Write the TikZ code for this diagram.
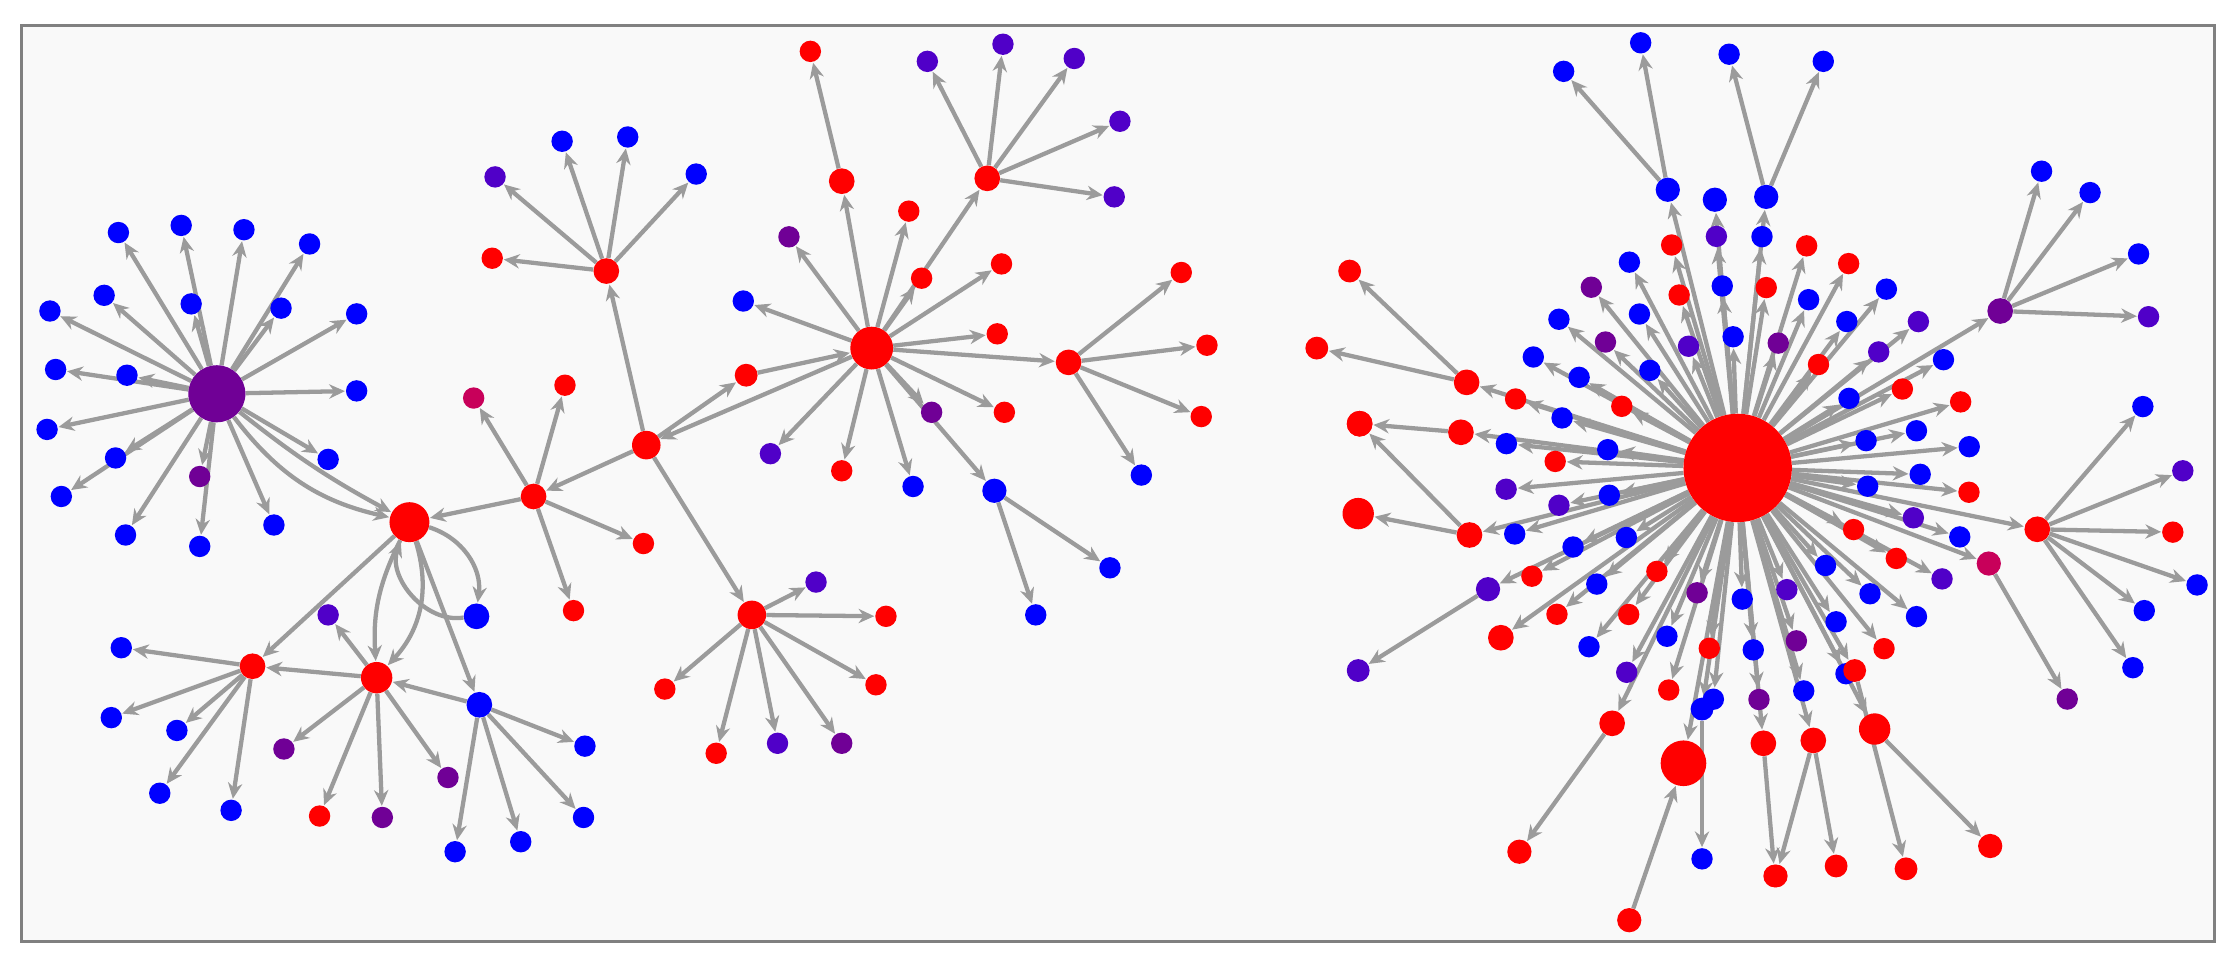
\documentclass[tikz,border=0pt]{standalone}
\usetikzlibrary{arrows.meta}
\definecolor{myblue}{RGB}{0,0,255}
\definecolor{myred}{RGB}{255,0,0}
\definecolor{mypurple}{RGB}{112,0,150}
\definecolor{myviolet}{RGB}{80,0,200}
\definecolor{mycrimson}{RGB}{200,0,90}
\definecolor{edgegray}{RGB}{155,155,155}
\pgfdeclarelayer{frame}
\pgfdeclarelayer{edges}
\pgfsetlayers{frame,edges,main}
\tikzset{every picture/.style={line width=0.75pt}}
\tikzset{
  dot/.style={circle,inner sep=0pt,draw=none,minimum size=#1},
  dot/.default=15pt,
  edge/.style={draw=edgegray,line width=3pt,-{Stealth[length=11pt,width=10pt]},shorten >=0.5pt}
}
\begin{document}
\begin{tikzpicture}[x=1pt,y=1pt,yscale=-1]
\useasboundingbox (0,0) rectangle (1568,682);
\begin{pgfonlayer}{frame}
\draw[draw=gray,line width=2pt,fill={rgb,255:red,249;green,249;blue,249}] (15,18) rectangle (1552,660);
\end{pgfonlayer}

%% left component: hubs
\node[dot=40pt,fill=mypurple] (P) at (152,276) {};
\node[dot=28pt,fill=myred] (R1) at (287,366) {};
\node[dot=18pt,fill=myred] (B) at (374,348) {};
\node[dot=20pt,fill=myred] (A) at (453,312) {};
\node[dot=30pt,fill=myred] (H2) at (611,244) {};
\node[dot=18pt,fill=myred] (C) at (425,190) {};
\node[dot=20pt,fill=myred] (D) at (527,431) {};
\node[dot=18pt,fill=myred] (E) at (177,467) {};
\node[dot=22pt,fill=myred] (F) at (264,475) {};
\node[dot=18pt,fill=myblue] (G) at (336,494) {};
\node[dot=18pt,fill=myblue] (L) at (334,432) {};
\node[dot=16pt,fill=myred] (M) at (523,263) {};
\node[dot=18pt,fill=myred] (N) at (590,127) {};
\node[dot=18pt,fill=myred] (K) at (692,125) {};
\node[dot=18pt,fill=myred] (J) at (749,254) {};
\node[dot=17pt,fill=myblue] (Q) at (697,344) {};

\begin{pgfonlayer}{edges}
\draw[edge] (P) to[bend left=20] (R1);
\draw[edge] (P) to[bend left=5] (R1);
\draw[edge] (B) -- (R1);
\draw[edge] (A) -- (B);
\draw[edge] (A) -- (C);
\draw[edge] (A) -- (M);
\draw[edge] (M) -- (H2);
\draw[edge] (H2) -- (A);
\draw[edge] (A) -- (D);
\draw[edge] (R1) -- (E);
\draw[edge] (R1) to[bend right=30] (F);
\draw[edge] (R1) to[bend left=15] (F);
\draw[edge] (G) -- (F);
\draw[edge] (R1) -- (G);
\draw[edge] (R1) to[bend right=40] (L);
\draw[edge] (L) to[bend right=60] (R1);
\draw[edge] (F) -- (E);
\draw[edge] (H2) -- (N);
\draw[edge] (H2) -- (K);
\draw[edge] (H2) -- (J);
\draw[edge] (H2) -- (Q);
\end{pgfonlayer}

%% left component: leaves
\foreach \hub/\n/\x/\y/\c in {
  P/p1/83/163/myblue, P/p2/127/158/myblue, P/p3/171/161/myblue, P/p4/217/171/myblue,
  P/p5/35/218/myblue, P/p6/73/207/myblue, P/p7/134/213/myblue, P/p8/197/216/myblue,
  P/p9/250/220/myblue, P/p10/39/259/myblue, P/p11/89/263/myblue, P/p12/250/274/myblue,
  P/p13/33/301/myblue, P/p14/81/321/myblue, P/p15/140/334/mypurple, P/p16/230/322/myblue,
  P/p17/43/348/myblue, P/p18/88/375/myblue, P/p19/140/383/myblue, P/p20/192/368/myblue,
  E/e1/85/454/myblue, E/e2/78/503/myblue, E/e3/124/512/myblue, E/e4/112/556/myblue, E/e5/162/568/myblue,
  F/f1/230/431/myviolet, F/f2/199/525/mypurple, F/f3/224/572/myred, F/f4/268/573/mypurple, F/f5/314/545/mypurple,
  G/g1/410/523/myblue, G/g2/319/597/myblue, G/g3/365/590/myblue, G/g4/409/573/myblue,
  B/b1/332/279/mycrimson, B/b2/396/270/myred, B/b3/451/381/myred, B/b4/402/428/myred,
  C/c1/345/181/myred, C/c2/347/124/myviolet, C/c3/394/99/myblue, C/c4/440/96/myblue, C/c5/488/122/myblue,
  D/d1/466/483/myred, D/d2/502/528/myred, D/d3/545/521/myviolet, D/d4/590/521/mypurple,
  D/d5/614/480/myred, D/d6/621/432/myred, D/d7/572/408/myviolet,
  N/n1/568/36/myred,
  H2/h1/553/166/mypurple, H2/h2/637/148/myred, H2/h3/646/195/myred, H2/h4/702/185/myred,
  H2/h5/699/234/myred, H2/h6/521/211/myblue, H2/h7/540/318/myviolet, H2/h8/590/330/myred,
  H2/h9/653/289/mypurple, H2/h10/704/289/myred, H2/h11/640/341/myblue,
  Q/q1/726/431/myblue, Q/q2/778/398/myblue,
  J/j1/828/191/myred, J/j2/846/242/myred, J/j3/842/292/myred, J/j4/800/333/myblue,
  K/k1/650/43/myviolet, K/k2/703/31/myviolet, K/k3/753/41/myviolet, K/k4/785/85/myviolet, K/k5/781/138/myviolet}
{
  \node[dot,fill=\c] (\n) at (\x,\y) {};
  \begin{pgfonlayer}{edges}\draw[edge] (\hub) -- (\n);\end{pgfonlayer}
}

%% right component
\node[dot=76pt,fill=myred] (H) at (1218,328) {};
\begin{scope}[shift={(1218,328)}]
\foreach \k in {0,...,17}{
  \pgfmathsetmacro\ang{\k*20+8}
  \pgfmathparse{{"myblue","myred","myblue","myviolet","myblue","mypurple","myred","myblue","myblue"}[int(mod(\k,9))]}
  \edef\cc{\pgfmathresult}
  \node[dot,fill=\cc] (ra\k) at (\ang:92) {};
  \begin{pgfonlayer}{edges}\draw[edge] (H) -- (ra\k);\end{pgfonlayer}
}
\foreach \k in {0,...,25}{
  \pgfmathsetmacro\ang{\k*13.85+2}
  \pgfmathparse{{"myblue","myviolet","myred","myblue","myblue","mypurple","myblue","myred","myblue","myred","myblue"}[int(mod(\k,11))]}
  \edef\cc{\pgfmathresult}
  \node[dot,fill=\cc] (rb\k) at (\ang:128) {};
  \begin{pgfonlayer}{edges}\draw[edge] (H) -- (rb\k);\end{pgfonlayer}
}
\foreach \k in {0,...,31}{
  \pgfmathsetmacro\ang{\k*11.25+6}
  \pgfmathparse{{"myred","myblue","myviolet","myblue","myred","myblue","myblue","mypurple","myblue","myred","myviolet","myblue","myred"}[int(mod(\k,13))]}
  \edef\cc{\pgfmathresult}
  \node[dot,fill=\cc] (rc\k) at (\ang:163) {};
  \begin{pgfonlayer}{edges}\draw[edge] (H) -- (rc\k);\end{pgfonlayer}
}
\end{scope}

\foreach \n/\x/\y/\c/\s in {
  s1/1169/133/myblue/17pt, s2/1238/138/myblue/17pt, s3/1202/140/myblue/17pt,
  s4/1402/218/mypurple/18pt, s5/1428/371/myred/18pt, s6/1394/395/mycrimson/17pt,
  s7/1028/268/myred/18pt, s8/1024/303/myred/18pt, s9/1030/375/myred/18pt,
  s10/1043/413/myviolet/17pt, s11/1130/507/myred/18pt, s12/1180/535/myred/32pt,
  s13/1236/521/myred/18pt, s14/1271/519/myred/18pt, s15/1314/511/myred/22pt,
  s16/1193/497/myblue/16pt, s17/1300/470/myred/16pt, s18/1052/447/myred/18pt}
{
  \node[dot=\s,fill=\c] (\n) at (\x,\y) {};
  \begin{pgfonlayer}{edges}\draw[edge] (H) -- (\n);\end{pgfonlayer}
}

\foreach \hub/\n/\x/\y/\c/\s in {
  s1/t1/1150/30/myblue/15pt, s1/t2/1096/50/myblue/15pt,
  s2/t3/1212/38/myblue/15pt, s2/t4/1278/43/myblue/15pt,
  s4/t5/1431/120/myblue/15pt, s4/t6/1465/135/myblue/15pt, s4/t7/1499/178/myblue/15pt, s4/t8/1506/222/myviolet/15pt,
  s5/t9/1502/285/myblue/15pt, s5/t10/1530/330/myviolet/15pt, s5/t11/1523/373/myred/15pt,
  s5/t12/1540/410/myblue/15pt, s5/t13/1503/428/myblue/15pt, s5/t14/1495/468/myblue/15pt,
  s6/t15/1449/490/mypurple/15pt,
  s7/t16/946/190/myred/16pt, s7/t17/923/244/myred/16pt,
  s8/t18/953/297/myred/18pt, s9/t19/952/360/myred/22pt, s9/t20/953/297/myred/18pt,
  s10/t21/952/470/myviolet/16pt, s11/t22/1065/597/myred/17pt,
  s13/t23/1244/614/myred/16pt, s14/t24/1287/607/myred/16pt, s14/t25/1245/614/myred/16pt,
  s15/t26/1395/593/myred/17pt, s16/t27/1193/602/myblue/15pt, s17/t28/1336/609/myred/16pt}
{
  \node[dot=\s,fill=\c] (\n) at (\x,\y) {};
  \begin{pgfonlayer}{edges}\draw[edge] (\hub) -- (\n);\end{pgfonlayer}
}
\node[dot=17pt,fill=myred] (t29) at (1142,645) {};
\begin{pgfonlayer}{edges}\draw[edge] (t29) -- (s12);\end{pgfonlayer}
\end{tikzpicture}
\end{document}
